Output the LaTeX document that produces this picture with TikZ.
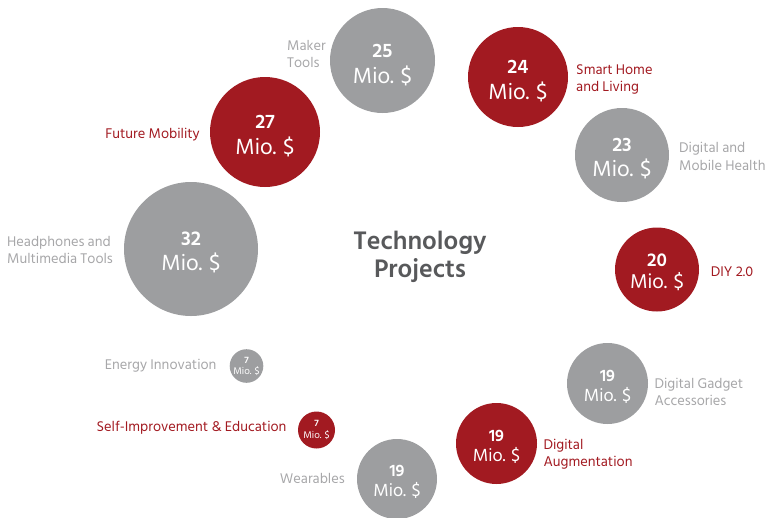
\documentclass[tikz,border=0pt]{standalone}
\usepackage{fontspec}
\setmainfont{Hind Siliguri}
\definecolor{bred}{HTML}{A21A21}
\definecolor{bgray}{HTML}{9D9EA0}
\definecolor{lgray}{HTML}{A7A7A9}
\definecolor{tgray}{HTML}{58595B}
\tikzset{
  bub/.style={circle, inner sep=0pt},
  redbub/.style={bub, fill=bred},
  graybub/.style={bub, fill=bgray},
  bubtxt/.style={text=white, inner sep=0pt, anchor=base},
  glab/.style={text=lgray, font=\fontsize{14.4}{17.5}\selectfont, inner sep=0pt},
  rlab/.style={text=bred, font=\fontsize{14.4}{17.5}\selectfont, inner sep=0pt},
}
% #1 style, #2 name, #3 position, #4 diameter, #5 number, #6 number size, #7 Mio size, #8 number baseline above centre, #9 Mio baseline below centre
\newcommand\bub[9]{%
  \node[#1, minimum size=#4pt] (#2) at (#3) {};
  \node[bubtxt, font=\fontsize{#6}{#6}\selectfont\bfseries] (#2n) at ([yshift=#8pt]#2.center) {#5};
  \node[bubtxt, font=\fontsize{#7}{#7}\selectfont] (#2m) at ([yshift=-#9pt]#2.center) {Mio. \$};
}
\begin{document}
\begin{tikzpicture}[x=1pt,y=-1pt]
\useasboundingbox (0,0) rectangle (768,517);
% bubbles
\bub{graybub}{c25}{382.5,60.5}{105}{25}{20}{22.5}{3.3}{22.5}
\bub{redbub}{c24}{518,77}{100}{24}{20}{22.5}{3.3}{22.5}
\bub{redbub}{c27}{265,132}{110}{27}{20}{22.5}{3.3}{22.5}
\bub{graybub}{c23}{622,155}{94}{23}{20}{22.5}{3.3}{21.5}
\bub{graybub}{c32}{191,249}{134}{32}{20.5}{22.5}{4}{21.5}
\bub{redbub}{c20}{657,269.5}{84}{20}{19}{20.5}{3.5}{19}
\bub{graybub}{c7a}{246.5,366}{33.6}{7}{9.5}{10}{3}{8}
\bub{graybub}{c19a}{607.5,383.5}{81}{19}{17}{18}{2.5}{17.5}
\bub{redbub}{c7b}{316.5,430}{37}{7}{9.5}{10}{3.3}{8.3}
\bub{redbub}{c19b}{496.5,443.5}{81}{19}{17}{18}{2.5}{17.5}
\bub{graybub}{c19c}{397,479}{80}{19}{17}{18}{2.5}{17.5}
% title
\node[text=tgray, inner sep=0pt, anchor=base, font=\fontsize{26}{28}\selectfont\bfseries] (title1) at (420,249) {Technology};
\node[text=tgray, inner sep=0pt, anchor=base, font=\fontsize{26}{28}\selectfont\bfseries] (title2) at (420,277) {Projects};
% labels (multi-line: base anchor = baseline of last line)
\node[glab, align=left, anchor=base west] (l25) at (287,67.5) {Maker\\Tools};
\node[rlab, align=left, anchor=base west] (l24) at (576,91.5) {Smart Home\\and Living};
\node[rlab, anchor=base east] (l27) at (200,138) {Future Mobility};
\node[glab, align=left, anchor=base west] (l23) at (679,170.2) {Digital and\\Mobile Health};
\node[glab, align=left, anchor=base west] (l32) at (7,263.8) {Headphones and\\Multimedia Tools};
\node[rlab, anchor=base west] (l20) at (710.7,276.7) {DIY 2.0};
\node[glab, anchor=base east] (l7a) at (216.7,369) {Energy Innovation};
\node[glab, align=left, anchor=base west] (l19a) at (654.3,405.8) {Digital Gadget\\Accessories};
\node[rlab, anchor=base east] (l7b) at (286.7,431.7) {Self-Improvement \& Education};
\node[rlab, align=left, anchor=base west] (l19b) at (543.3,466.8) {Digital\\Augmentation};
\node[glab, anchor=base east] (l19c) at (345,483.3) {Wearables};
\end{tikzpicture}
\end{document}
